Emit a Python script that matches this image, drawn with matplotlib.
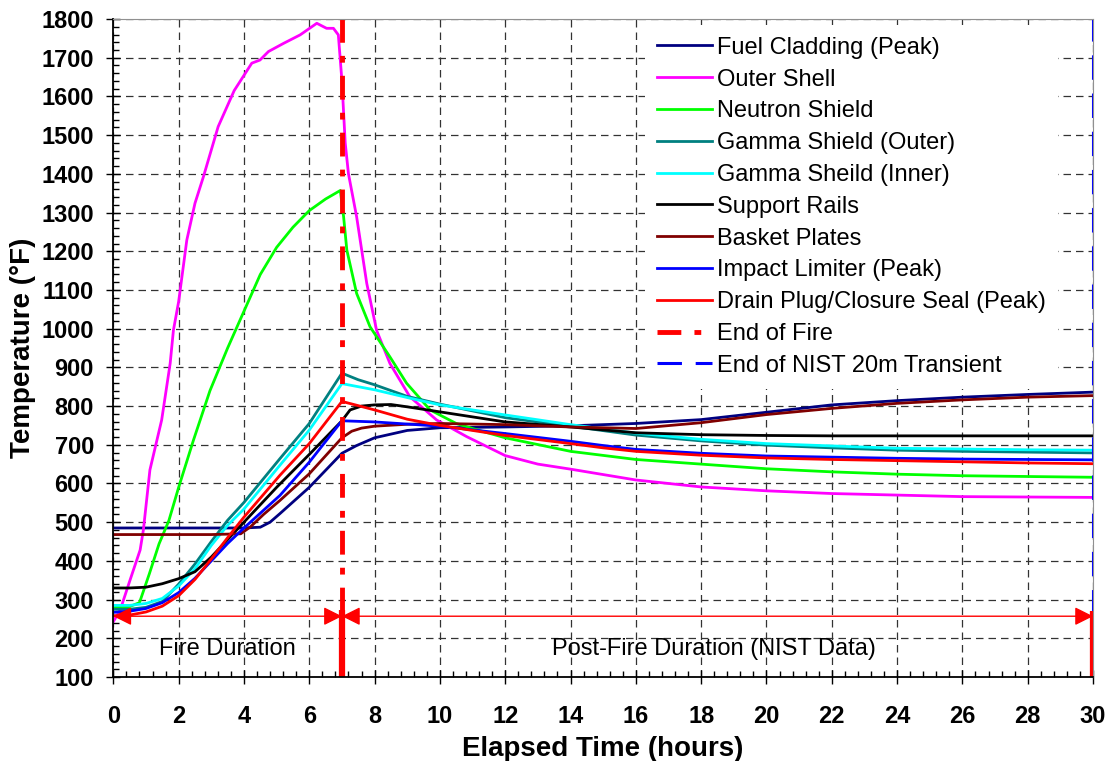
import matplotlib
matplotlib.use('Agg')
import matplotlib.pyplot as plt
from matplotlib.ticker import MultipleLocator

plt.rcParams['font.family'] = ['Liberation Sans', 'DejaVu Sans']

# series data (hours, deg F)
fuel_t = [0, 1, 2, 3, 4, 4.5, 4.8, 5.1, 6.0, 7.0, 7.45, 8, 9, 10, 12, 14, 16, 18, 20, 22, 24, 26, 28, 30]
fuel_T = [485, 485, 485, 485, 485, 487, 500, 522, 590, 678, 698, 718, 737, 744, 746, 749, 755, 765, 784, 803, 814, 823, 830, 836]

shell_t = [0, 0.21, 0.51, 0.82, 0.92, 1.12, 1.48, 1.74, 1.84, 2.0, 2.25, 2.5, 2.76, 3.21, 3.7, 4.24, 4.49, 4.75,
           5.21, 5.72, 6.23, 6.53, 6.74, 6.89, 7.0, 7.1, 7.2, 7.45, 7.76, 8.06, 8.47, 9.08, 9.9, 10.82, 12, 13,
           14, 16, 18, 20, 22, 24, 26, 28, 30]
shell_T = [243, 273, 350, 428, 480, 635, 764, 910, 996, 1070, 1229, 1324, 1393, 1522, 1615, 1686, 1694, 1716,
           1737, 1759, 1789, 1776, 1776, 1759, 1640, 1480, 1400, 1289, 1117, 996, 910, 824, 764, 721, 672, 650,
           637, 609, 591, 581, 574, 570, 566, 565, 564]

neutron_t = [0, 0.5, 0.8, 1.1, 1.4, 1.7, 2.0, 2.45, 2.96, 3.5, 4.0, 4.5, 5.0, 5.5, 6.0, 6.5, 6.95, 7.05, 7.15,
             7.45, 7.86, 8.47, 8.98, 9.7, 10.5, 11, 12, 14, 16, 18, 20, 22, 24, 26, 28, 30]
neutron_T = [280, 282, 292, 366, 444, 504, 590, 711, 840, 950, 1045, 1140, 1210, 1262, 1305, 1335, 1357, 1290, 1203,
             1091, 1005, 927, 859, 790, 755, 742, 718, 683, 662, 650, 638, 630, 624, 620, 618, 616]

gamma_t = [0, 0.5, 1.0, 1.5, 2.0, 2.5, 3.0, 3.5, 4.0, 5.1, 6.0, 7.0, 7.5, 8, 9, 10, 12, 14, 16, 18, 20, 22, 24, 26, 28, 30]
gout_T = [275, 275, 280, 295, 340, 392, 450, 505, 551, 664, 755, 885, 868, 855, 825, 805, 770, 748, 725, 710, 699, 692, 686, 683, 681, 679]
gin_T = [285, 285, 290, 303, 335, 380, 440, 492, 534, 647, 738, 858, 850, 842, 822, 803, 777, 752, 730, 714, 703, 697, 691, 689, 687, 686]

rails_t = [0, 0.5, 1.0, 1.5, 2.0, 2.5, 3.0, 3.5, 4.0, 5.0, 6.0, 7.0, 7.25, 7.6, 8.0, 8.5, 9, 10, 12, 14, 16, 18, 20, 22, 24, 26, 28, 30]
rails_T = [330, 330, 332, 341, 354, 372, 410, 455, 500, 590, 675, 762, 790, 800, 803, 804, 798, 785, 759, 746, 731, 726, 724, 723, 723, 723, 723, 723]

basket_t = [0, 1, 2, 3, 3.9, 4.2, 4.6, 5.1, 6.0, 7.0, 7.3, 7.6, 8, 9, 10, 12, 14, 16, 18, 20, 22, 24, 26, 28, 30]
basket_T = [468, 468, 468, 468, 470, 488, 520, 556, 625, 718, 735, 743, 748, 753, 755, 752, 746, 742, 757, 778, 794, 807, 816, 823, 827]

impact_t = [0, 0.5, 1.0, 1.5, 2.0, 2.5, 3.0, 3.5, 4.0, 5.1, 6.0, 7.0, 8, 10, 12, 14, 15, 16, 18, 20, 22, 24, 26, 28, 30]
impact_T = [267, 270, 277, 292, 318, 355, 400, 445, 485, 569, 655, 762, 759, 748, 729, 709, 698, 688, 678, 671, 668, 665, 663, 662, 661]

drain_t = [0, 0.5, 1.0, 1.5, 2.0, 2.5, 3.0, 3.5, 4.0, 5.1, 6.0, 7.0, 8, 9, 10, 12, 14, 15, 16, 18, 20, 22, 24, 26, 28, 30]
drain_T = [258, 260, 268, 283, 310, 352, 405, 460, 513, 621, 703, 812, 790, 766, 750, 724, 703, 692, 683, 673, 666, 662, 659, 656, 653, 651]

fire_end = 7
nist_end = 30
arrow_y = 257

fig = plt.figure(figsize=(11.09, 7.61), dpi=100)
ax = fig.add_axes([0.1022, 0.1104, 0.8834, 0.8646])

lw = 2.0
ax.plot(fuel_t, fuel_T, color='#000080', lw=lw, label='Fuel Cladding (Peak)')
ax.plot(shell_t, shell_T, color='#FF00FF', lw=lw, label='Outer Shell')
ax.plot(neutron_t, neutron_T, color='#00FF00', lw=lw, label='Neutron Shield')
ax.plot(gamma_t, gout_T, color='#008080', lw=lw, label='Gamma Shield (Outer)')
ax.plot(gamma_t, gin_T, color='#00FFFF', lw=lw, label='Gamma Sheild (Inner)')
ax.plot(rails_t, rails_T, color='black', lw=lw, label='Support Rails')
ax.plot(basket_t, basket_T, color='#800000', lw=lw, label='Basket Plates')
ax.plot(impact_t, impact_T, color='#0000FF', lw=lw, label='Impact Limiter (Peak)')
ax.plot(drain_t, drain_T, color='#FF0000', lw=lw, label='Drain Plug/Closure Seal (Peak)')

ax.plot([fire_end, fire_end], [270, 1800], color='red', lw=3.5,
        linestyle=(0, (4.9, 2.7, 1.4, 2.7)), label='End of Fire')
ax.plot([nist_end, nist_end], [262, 1800], color='blue', lw=2.2,
        linestyle=(0, (8, 4.5)), label='End of NIST 20m Transient')

# thick markers below the arrow line
ax.plot([fire_end, fire_end], [100, 272], color='red', lw=4.5, solid_capstyle='butt')
ax.plot([nist_end, nist_end], [100, 270], color='red', lw=4.5, solid_capstyle='butt')

arr = dict(arrowstyle='<|-|>,head_length=0.8,head_width=0.4', color='red', lw=1,
           shrinkA=0, shrinkB=0, mutation_scale=14)
ax.annotate('', xy=(0, arrow_y), xytext=(fire_end, arrow_y), arrowprops=arr)
ax.annotate('', xy=(fire_end, arrow_y), xytext=(nist_end, arrow_y), arrowprops=arr)

ax.text(3.48, 172, 'Fire Duration', ha='center', va='center', fontsize=17)
ax.text(18.4, 172, 'Post-Fire Duration (NIST Data)', ha='center', va='center', fontsize=17)

ax.set_xlim(0, 30)
ax.set_ylim(100, 1800)
ax.xaxis.set_major_locator(MultipleLocator(2))
ax.xaxis.set_minor_locator(MultipleLocator(0.4))
ax.yaxis.set_major_locator(MultipleLocator(100))
ax.yaxis.set_minor_locator(MultipleLocator(20))
ax.tick_params(which='major', direction='inout', length=10, width=1, labelsize=17)
ax.tick_params(axis='x', which='major', pad=15)
ax.tick_params(axis='y', which='major', pad=9)
ax.tick_params(which='minor', direction='in', length=4, width=1)
for lab in ax.get_xticklabels() + ax.get_yticklabels():
    lab.set_fontweight('bold')

ax.grid(True, which='major', color='#333333', lw=0.9, linestyle=(0, (6, 4)))
for s in ['top', 'right']:
    ax.spines[s].set_color('#909090')
for s in ['left', 'bottom']:
    ax.spines[s].set_linewidth(1.3)

ax.set_xlabel('Elapsed Time (hours)', fontsize=20, fontweight='bold', labelpad=6)
ax.set_ylabel('Temperature (°F)', fontsize=20, fontweight='bold', labelpad=4)

leg = ax.legend(loc='upper left', bbox_to_anchor=(0.5427, 0.991), frameon=True, fancybox=False,
                facecolor='white', edgecolor='none', framealpha=1, fontsize=17,
                handlelength=2.33, handletextpad=0.22, labelspacing=0.415, borderpad=0.5, borderaxespad=0)

fig.savefig('out.png', dpi=100)
